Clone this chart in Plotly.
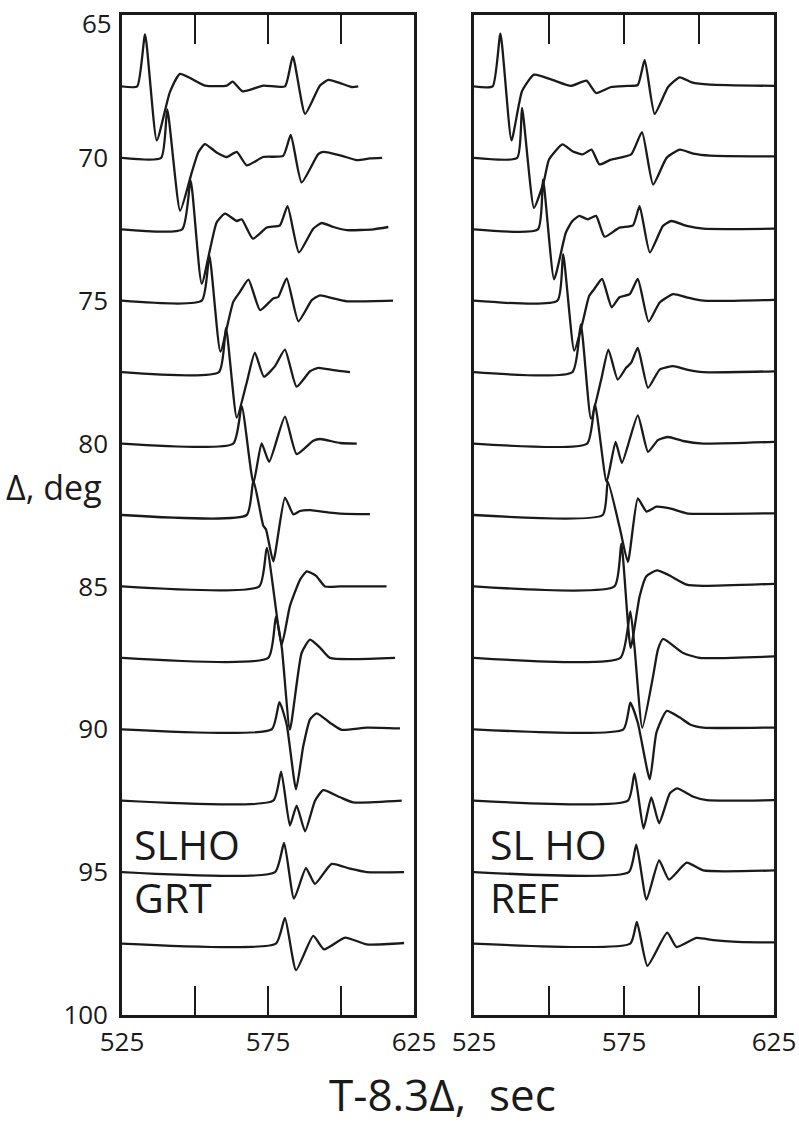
import plotly.graph_objects as go

# Epicentral distances (deg) of the traces
distances = [67.5, 70.0, 72.5, 75.0, 77.5, 80.0, 82.5, 85.0, 87.5, 90.0, 92.5, 95.0, 97.5]

# ---- Left panel: SLHO GRT synthetics (time in s, amplitude in deg of trace offset, + = up) ----
grt_t = [
    [525, 530.2, 532.9, 536.9, 541.4, 544.9, 553.4, 560.9, 562.9, 566.3, 573.4, 580.8, 583.5, 587.7, 592.8, 595.7, 600.2, 603.7, 605.9],
    [525, 538.4, 540.5, 544.9, 548.9, 551.1, 553.4, 557.4, 560.9, 564.3, 567.7, 573.4, 580.2, 582.8, 586.5, 592.2, 593.9, 599.7, 605.4, 609.9, 614.1],
    [525, 545.6, 548.5, 552.3, 557.4, 560.3, 564.3, 566.0, 569.8, 574.6, 579.1, 581.7, 585.6, 590.5, 593.4, 597.4, 602.0, 611.1, 616.2],
    [525, 552.3, 554.9, 558.7, 563.1, 565.4, 568.3, 572.3, 576.8, 578.5, 581.4, 585.4, 590.0, 592.8, 597.4, 602.0, 617.8],
    [525, 558.2, 560.6, 564.3, 567.7, 570.5, 573.6, 577.4, 580.8, 584.8, 589.4, 592.2, 597.4, 603.1],
    [525, 563.1, 566.0, 570.0, 572.8, 575.4, 580.8, 584.8, 590.5, 592.8, 599.7, 605.4],
    [525, 567.7, 570.0, 573.4, 574.3, 576.8, 580.8, 583.7, 585.9, 589.4, 596.2, 599.7, 609.9],
    [525, 572.0, 574.6, 579.7, 582.5, 586.0, 588.3, 591.4, 594.5, 599.7, 615.6],
    [525, 575.1, 577.7, 579.7, 582.5, 586.5, 589.4, 592.8, 596.2, 618.5],
    [525, 576.3, 578.9, 581.4, 584.6, 587.1, 589.4, 591.7, 596.2, 600.2, 608.8, 620.2],
    [525, 576.8, 579.5, 582.5, 584.8, 587.7, 591.1, 593.9, 599.7, 604.2, 620.8],
    [525, 577.4, 580.5, 583.9, 588.0, 591.1, 596.8, 603.1, 608.8, 621.6],
    [525, 577.7, 580.8, 584.6, 590.5, 594.2, 601.4, 608.8, 621.6],
]
grt_amp = [
    [0, 0, 1.82, -1.89, -0.20, 0.44, 0.03, 0.03, 0.17, -0.17, 0.03, 0, 1.05, -0.96, 0.03, 0.23, 0.10, -0.02, 0],
    [0, 0, 1.70, -1.85, -0.51, 0.19, 0.48, 0.19, 0.03, 0.21, -0.26, 0.03, 0.07, 0.80, -0.86, 0.13, 0.21, 0.09, -0.08, -0.02, 0],
    [0, 0, 1.71, -1.90, 0.24, 0.55, 0.29, 0.35, -0.33, 0.06, 0.14, 0.81, -0.81, 0.02, 0.22, 0.08, -0.03, 0, 0.08],
    [0, 0, 1.59, -1.78, -0.04, 0.31, 0.74, -0.33, 0.08, 0.13, 0.78, -0.72, 0.02, 0.19, 0.08, -0.02, 0],
    [0, 0, 1.55, -1.59, -0.37, 0.68, -0.16, 0.21, 0.79, -0.51, 0.03, 0.15, 0.07, 0],
    [0, 0, 1.31, -1.39, 0.01, -0.64, 0.94, -0.37, 0.10, 0.16, 0.02, 0],
    [0, 0, 1.21, -0.38, -0.50, -1.62, 0.61, 0.02, 0.14, 0.17, 0.08, 0.05, 0.03],
    [0, 0, 1.35, -2.03, -0.69, 0.24, 0.53, 0.38, 0, 0, 0],
    [0, 0, 1.44, 0.38, -2.51, 0.17, 0.64, 0.36, 0, 0],
    [0, 0, 0.95, 0.17, -2.10, -0.58, 0.35, 0.56, 0.23, -0.02, 0.06, 0.03],
    [0, 0, 1.02, -0.87, -0.17, -1.07, 0, 0.37, 0.12, -0.06, 0],
    [0, 0, 1.02, -0.93, 0.14, -0.41, 0.29, 0.12, 0, 0],
    [0, 0, 0.90, -0.93, 0.27, -0.20, 0.21, -0.03, 0.02],
]

# ---- Right panel: SLHO REF (reflectivity) synthetics ----
ref_t = [
    [525, 531.2, 533.8, 537.5, 541.0, 545.0, 551.1, 557.3, 562.5, 565.7, 570.7, 576.3, 579.6, 581.9, 585.2, 589.7, 593.6, 597.6, 603.7, 625],
    [525, 539.4, 541.0, 545.0, 548.3, 550.0, 554.5, 557.8, 561.2, 564.2, 566.8, 570.7, 577.4, 581.0, 584.7, 589.2, 593.6, 598.1, 603.7, 625],
    [525, 546.3, 548.0, 551.7, 555.6, 557.8, 560.1, 562.9, 565.7, 568.5, 573.5, 578.0, 580.2, 583.6, 588.0, 590.8, 595.9, 601.4, 625],
    [525, 552.8, 554.7, 558.4, 561.2, 563.4, 565.1, 567.7, 570.9, 573.5, 576.9, 579.6, 583.2, 586.9, 591.4, 595.9, 601.4, 625],
    [525, 557.8, 560.6, 564.0, 567.4, 569.8, 572.9, 575.7, 577.4, 579.6, 583.0, 586.9, 591.4, 595.9, 601.4, 625],
    [525, 562.7, 565.3, 569.2, 572.2, 574.3, 579.6, 583.0, 586.3, 589.7, 594.7, 601.4, 625],
    [525, 567.9, 569.6, 573.5, 576.3, 579.6, 582.5, 585.8, 590.3, 595.9, 625],
    [525, 571.8, 574.1, 577.2, 580.2, 582.4, 586.0, 589.7, 595.9, 601.4, 625],
    [525, 573.8, 577.1, 578.5, 581.1, 584.7, 586.3, 588.0, 594.7, 600.3, 625],
    [525, 574.8, 577.1, 579.6, 583.6, 585.8, 589.2, 593.6, 597.0, 601.4, 625],
    [525, 576.3, 578.5, 581.5, 584.1, 586.7, 590.3, 592.7, 598.1, 602.6, 625],
    [525, 576.6, 579.1, 582.5, 586.7, 590.0, 595.9, 601.4, 625],
    [525, 577.1, 579.3, 582.8, 589.4, 592.5, 599.2, 604.8, 612.7, 625],
]
ref_amp = [
    [0, 0, 1.85, -1.89, -0.17, 0.41, 0.23, 0.02, 0.20, -0.23, -0.02, 0.02, 0.05, 0.93, -0.96, -0.02, 0.32, 0.14, 0.06, 0.02],
    [0, 0, 1.75, -1.75, -0.82, -0.06, 0.47, 0.23, 0.12, 0.29, -0.23, -0.06, 0.12, 0.90, -0.93, 0, 0.29, 0.15, 0.08, 0.05],
    [0, 0, 1.75, -1.75, -0.12, 0.29, 0.47, 0.35, 0.47, -0.26, 0.06, 0.14, 0.81, -0.81, 0.12, 0.29, 0.12, 0.02, 0.02],
    [0, 0, 1.63, -1.75, -0.76, 0.17, 0.41, 0.76, -0.23, 0.12, 0.23, 0.76, -0.73, -0.06, 0.23, 0.12, 0, 0.03],
    [0, 0, 1.67, -1.63, -0.26, 0.79, -0.26, 0.15, 0.33, 0.85, -0.55, 0.09, 0.21, 0.09, 0, 0.03],
    [0, 0, 1.37, -1.34, 0.06, -0.68, 0.99, -0.29, 0.12, 0.23, 0.09, 0, 0.06],
    [0, 0, 1.17, -0.41, -1.64, 0.58, 0.12, 0.29, 0.23, 0.06, 0.06],
    [0, 0, 1.50, -2.15, -0.35, 0.35, 0.56, 0.41, 0.06, 0.02, 0.09],
    [0, 0, 1.63, 0.38, -2.45, -0.64, 0.29, 0.66, 0.17, 0, 0.05],
    [0, 0, 0.93, 0.23, -1.75, -0.12, 0.64, 0.41, 0.17, 0.06, 0.06],
    [0, 0, 0.96, -0.97, 0.12, -0.79, 0.26, 0.43, 0.14, 0.02, 0.02],
    [0, 0, 0.96, -0.96, 0.41, -0.26, 0.33, 0.06, 0.06],
    [0, 0, 0.76, -0.78, 0.38, -0.12, 0.20, 0.12, 0.06, 0.04],
]

x_tickvals = [525, 550, 575, 600, 625]
x_ticktext = ["525", "", "575", "", "625"]
# 65 is written as a separate label (it sits slightly below the frame top in the original)
y_tickvals = [70, 75, 80, 85, 90, 95, 100]
y_ticktext = ["70", "75", "80", "85", "90", "95", "100"]
top_label = "65"

FONT = "Open Sans"
INK = "#1a1a1a"

fig = go.Figure()

for panel, (ts, amps) in enumerate([(grt_t, grt_amp), (ref_t, ref_amp)]):
    xa = "x" if panel == 0 else "x2"
    ya = "y" if panel == 0 else "y2"
    for d, t, a in zip(distances, ts, amps):
        fig.add_trace(go.Scatter(
            x=t, y=[d - v for v in a], mode="lines",
            line=dict(color=INK, width=2.3, shape="spline", smoothing=0.5),
            xaxis=xa, yaxis=ya, hoverinfo="skip", showlegend=False,
        ))

W, H = 799, 1126
ydom = [1 - 1015 / H, 1 - 15 / H]

xcommon = dict(range=[525, 625], tickvals=x_tickvals, ticktext=x_ticktext,
               ticks="inside", ticklen=29, tickwidth=1.8, tickcolor=INK,
               showline=True, linewidth=2.6, linecolor=INK, mirror="ticks",
               showgrid=False, zeroline=False, automargin=False,
               ticklabeloverflow="allow",
               tickfont=dict(family=FONT, size=26, color=INK), ticklabelstandoff=2)
ycommon = dict(range=[100, 65], domain=ydom, tickvals=y_tickvals, ticktext=y_ticktext,
               ticks="", showline=True, linewidth=2.6, linecolor=INK, mirror=True,
               showgrid=False, zeroline=False, automargin=False,
               ticklabeloverflow="allow",
               tickfont=dict(family=FONT, size=26, color=INK), ticklabelstandoff=6)

fig.update_layout(
    width=W, height=H, margin=dict(l=0, r=0, t=0, b=0, autoexpand=False),
    plot_bgcolor="white", paper_bgcolor="white", showlegend=False,
    xaxis=dict(domain=[122 / W, 414 / W], anchor="y", **xcommon),
    xaxis2=dict(domain=[474 / W, 774 / W], anchor="y2", **xcommon),
    yaxis=dict(anchor="x", **ycommon),
    yaxis2=dict(anchor="x2", showticklabels=False, **ycommon),
)

annotations = [
    dict(text=top_label, x=114 / W, y=1 - 23 / H, xref="paper", yref="paper",
         xanchor="right", yanchor="middle", showarrow=False,
         font=dict(family=FONT, size=26, color=INK)),
    dict(text="Δ, deg", x=4 / W, y=1 - 487 / H, xref="paper", yref="paper",
         xanchor="left", yanchor="middle", showarrow=False,
         font=dict(family=FONT, size=34, color=INK)),
    dict(text="T-8.3Δ,  sec", x=443 / W, y=1 - 1094 / H, xref="paper", yref="paper",
         xanchor="center", yanchor="middle", showarrow=False,
         font=dict(family=FONT, size=44, color=INK)),
    dict(text="SLHO<br>GRT", x=528.4, y=94.95, xref="x", yref="y", xanchor="left", yanchor="middle",
         align="left", showarrow=False, font=dict(family=FONT, size=41, color=INK)),
    dict(text="SL HO<br>REF", x=529.5, y=94.95, xref="x2", yref="y2", xanchor="left", yanchor="middle",
         align="left", showarrow=False, font=dict(family=FONT, size=41, color=INK)),
]
fig.update_layout(annotations=annotations)

fig.write_html("out.html")
